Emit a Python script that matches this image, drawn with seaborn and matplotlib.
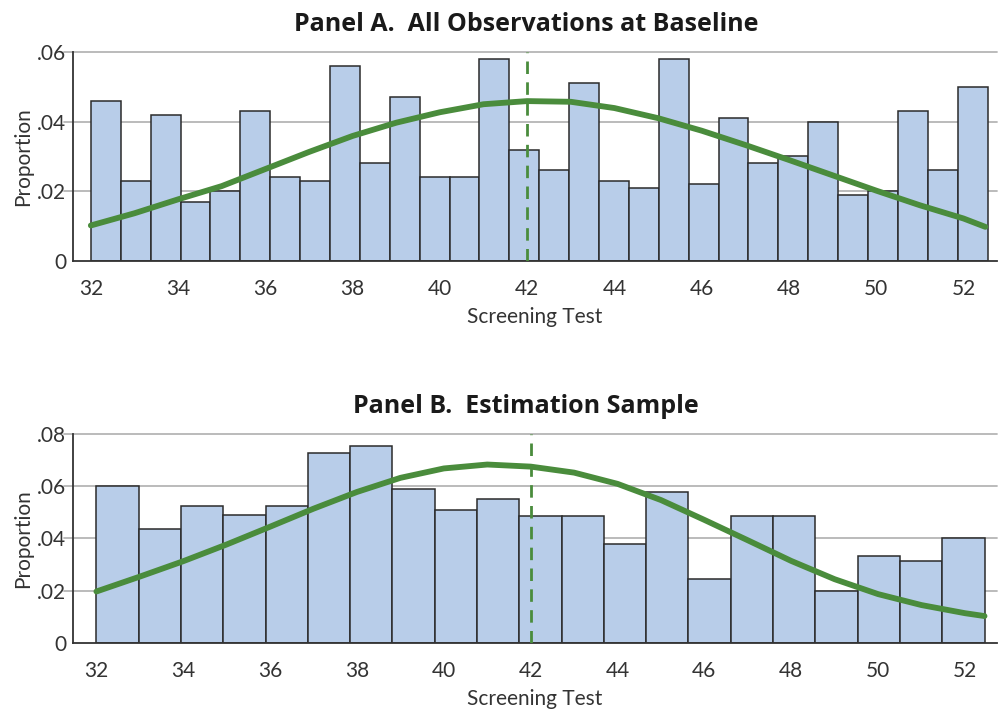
import numpy as np
import pandas as pd
import seaborn as sns
import matplotlib.pyplot as plt

# Panel A: 30 bins between 32 and 52.5
a_props = [.046, .023, .042, .017, .020, .043, .024, .023, .056, .028,
           .047, .024, .024, .058, .032, .026, .051, .023, .021, .058,
           .022, .041, .028, .030, .040, .019, .020, .043, .026, .050]
a_lo, a_hi = 32, 52.55
# Panel B: 21 bins between 32 and 52.45
b_props = [.060, .0435, .0526, .049, .0526, .0726, .0752, .0591, .051, .055,
           .0485, .0485, .038, .0577, .0244, .0485, .0485, .0199, .0334, .0314, .0402]
b_lo, b_hi = 32, 52.45

# fitted density curves
a_curve_x = [32, 33, 34, 35, 36, 37, 38, 39, 40, 41, 42, 43, 44, 45, 46, 47, 48, 49, 50, 51, 52, 52.5]
a_curve_y = [.0102, .0137, .0177, .0215, .0264, .0313, .0359, .0397, .0427, .0450, .0459,
             .0457, .0439, .0410, .0374, .0333, .0290, .0246, .0202, .0160, .0122, .0098]
b_curve_x = [32, 33, 34, 35, 36, 37, 38, 39, 40, 41, 42, 43, 44, 45, 46, 47, 48, 49, 50, 51, 52, 52.45]
b_curve_y = [.0197, .0254, .0313, .0377, .0445, .0514, .0578, .0632, .0668, .0683, .0675,
             .0652, .0609, .0547, .0471, .0393, .0314, .0244, .0187, .0145, .0114, .0103]

baseline = 42
xticks = list(range(32, 53, 2))

sns.set_style("white")
plt.rcParams['font.family'] = ['Lato', 'DejaVu Sans']

barcol = "#b8cde9"
edge = "#2b2b2b"
green = "#4a8c3c"
txt = "#333333"

fig = plt.figure(figsize=(9.98, 7.10), dpi=100)
ax1 = fig.add_axes([0.0731, 0.6324, 0.926, 0.2944])
ax2 = fig.add_axes([0.0731, 0.0944, 0.926, 0.2944])

panels = [
    (ax1, a_props, a_lo, a_hi, a_curve_x, a_curve_y, 0.06, [0, .02, .04, .06],
     ["0", ".02", ".04", ".06"], "Panel A.  All Observations at Baseline", (31.59, 52.77)),
    (ax2, b_props, b_lo, b_hi, b_curve_x, b_curve_y, 0.08, [0, .02, .04, .06, .08],
     ["0", ".02", ".04", ".06", ".08"], "Panel B.  Estimation Sample", (31.46, 52.74)),
]

for ax, props, lo, hi, cx, cy, ytop, yt, ytl, title, xl in panels:
    step = (hi - lo) / len(props)
    centers = [lo + step * (i + 0.5) for i in range(len(props))]
    df = pd.DataFrame({"x": centers, "w": props})
    for v in yt[1:]:
        ax.axhline(v, color="#b5b5b5", lw=1.3, zorder=0, xmin=-0.01, clip_on=False)
    sns.histplot(data=df, x="x", weights="w", bins=len(props), binrange=(lo, hi),
                 ax=ax, color=barcol, edgecolor=edge, linewidth=1.1, alpha=1)
    sns.lineplot(x=cx, y=cy, ax=ax, color=green, lw=4.2, zorder=4)
    ax.plot([baseline, baseline], [0, ytop], color=green, lw=2, ls=(0, (4.5, 3)), zorder=5)
    ax.set_xlim(*xl)
    ax.set_ylim(0, ytop)
    ax.set_xticks(xticks)
    ax.set_xticklabels([str(t) for t in xticks], fontsize=15, color=txt)
    ax.set_yticks(yt)
    ax.set_yticklabels(ytl, fontsize=15, color=txt)
    ax.tick_params(axis="x", length=9, width=1, color=txt, direction="out", pad=4)
    ax.tick_params(axis="y", length=0, pad=5)
    ax.set_xlabel("Screening Test", fontsize=15, color=txt, labelpad=6)
    ax.set_ylabel("Proportion", fontsize=15, color=txt, labelpad=3)
    ax.text(0.49, 1.07, title, transform=ax.transAxes, ha="center", va="bottom",
            fontsize=18, fontweight="bold", color="#1a1a1a",
            family=["Open Sans", "DejaVu Sans"])
    sns.despine(ax=ax)
    for s in ["left", "bottom"]:
        ax.spines[s].set_color(txt)
        ax.spines[s].set_linewidth(1.3)
    ax.grid(False)

fig.savefig("out.png", dpi=100)
